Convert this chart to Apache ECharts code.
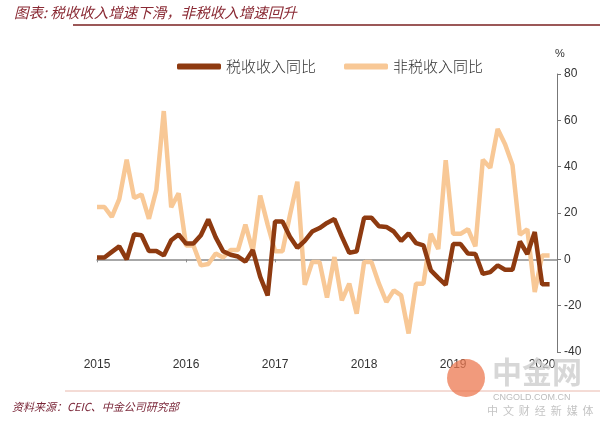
<!DOCTYPE html>
<html>
<head>
<meta charset="utf-8">
<script src="https://cdn.jsdelivr.net/npm/echarts@6/dist/echarts.min.js"></script>
<style>html,body{margin:0;padding:0;background:#fff;}#c{width:600px;height:428px;}</style>
</head>
<body>
<div id="c"></div>
<script>
// Monthly categories 2015-01 .. 2020-03 (Jan & Feb reported together)
var startYear = 2015, endYear = 2020, endMonth = 3;
var months = [];
for (var y = startYear; y <= endYear; y++) {
  for (var m = 1; m <= 12; m++) {
    if (y === endYear && m > endMonth) break;
    months.push(y + '-' + (m < 10 ? '0' + m : m));
  }
}
var yearLabels = ['2015', '2016', '2017', '2018', '2019', '2020'];

var seriesNames = ['税收收入同比', '非税收入同比'];

// 税收收入同比 (%)
var taxYoY = [
  0.8, 0.8, 3.2, 5.6, 0.0, 10.8, 10.4, 3.6, 3.6, 1.7, 8.2, 10.7,
  6.8, 6.8, 10.4, 17.2, 9.5, 3.5, 2.0, 1.2, -1.0, 4.0, -7.6, -15.6,
  16.3, 16.3, 9.8, 5.0, 8.0, 12.0, 13.5, 15.7, 17.4, 9.8, 2.8, 3.5,
  17.9, 17.9, 14.3, 14.0, 12.0, 8.0, 11.2, 7.0, 6.0, -4.8, -8.0, -11.0,
  6.6, 6.6, 2.5, 2.3, -6.3, -5.5, -2.6, -4.5, -4.5, 7.7, 2.3, 11.8,
  -10.8, -10.8
];
// 非税收入同比 (%)
var nonTaxYoY = [
  22.6, 22.6, 18.3, 26.0, 43.0, 26.5, 28.0, 17.5, 30.0, 64.0, 22.5, 28.5,
  6.0, 6.0, -2.6, -2.0, 2.5, 0.8, 4.0, 4.0, 15.0, 3.5, 27.5, 15.0,
  3.5, 3.5, 19.0, 33.5, -11.0, -1.2, -1.2, -16.5, 1.0, -17.7, -10.5, -23.5,
  -1.2, -1.2, -10.5, -18.4, -13.4, -15.6, -32.0, -10.5, -10.5, 11.0, 4.4, 42.8,
  11.0, 11.0, 13.0, 5.6, 43.0, 39.5, 56.3, 49.7, 40.7, 10.6, 13.0, -14.1,
  1.7, 1.7
];

var taxColor = '#8E3A10';
var nonTaxColor = '#F8C896';
var isYearStart = function (i) { return i % 12 === 0; };

var chart = echarts.init(document.getElementById('c'), null, {renderer: 'canvas'});
chart.setOption({
  animation: false,
  backgroundColor: '#fff',
  textStyle: {fontFamily: 'Liberation Sans, Arial, sans-serif'},
  grid: {left: 97, right: 43, top: 74, bottom: 76},
  legend: {
    data: seriesNames,
    left: 172, top: 54,
    icon: 'roundRect',
    itemWidth: 44, itemHeight: 6,
    itemGap: 28,
    textStyle: {fontFamily: 'Noto Sans CJK SC', fontSize: 15, color: '#333', fontWeight: 300}
  },
  xAxis: [{
    type: 'category',
    data: months,
    boundaryGap: false,
    axisLine: {onZero: true, lineStyle: {color: '#8a8a8a', width: 1.5}},
    axisTick: {show: true, interval: function (i) { return isYearStart(i); }, length: 3, lineStyle: {color: '#8a8a8a'}},
    axisLabel: {show: false},
    splitLine: {show: false}
  }, {
    type: 'category',
    data: months,
    boundaryGap: false,
    position: 'bottom',
    axisLine: {show: false, onZero: false},
    axisTick: {show: false},
    axisLabel: {
      interval: function (i) { return isYearStart(i); },
      formatter: function (v, i) { return yearLabels[Math.floor(i / 12)]; },
      color: '#333', fontSize: 12, margin: 7
    }
  }],
  yAxis: {
    type: 'value',
    position: 'right',
    min: -40, max: 80, interval: 20,
    name: '%',
    nameLocation: 'end',
    nameGap: 15,
    nameTextStyle: {color: '#333', fontSize: 11, align: 'left', padding: [0, 0, 0, -2]},
    axisLine: {show: true, lineStyle: {color: '#777', width: 1}},
    axisTick: {show: true, length: 4, lineStyle: {color: '#777'}},
    axisLabel: {color: '#333', fontSize: 12, margin: 7},
    splitLine: {show: false}
  },
  series: [{
    name: seriesNames[1],
    type: 'line',
    data: nonTaxYoY,
    symbol: 'none',
    lineStyle: {color: nonTaxColor, width: 4.5},
    itemStyle: {color: nonTaxColor},
    z: 2
  }, {
    name: seriesNames[0],
    type: 'line',
    data: taxYoY,
    symbol: 'none',
    lineStyle: {color: taxColor, width: 4.5},
    itemStyle: {color: taxColor},
    z: 3
  }],
  graphic: [
    {type: 'text', left: 14, top: 5, style: {text: '图表: 税收收入增速下滑，非税收入增速回升', fill: '#8A2A34', font: 'italic 14.5px "Noto Sans CJK SC"'}},
    {type: 'line', shape: {x1: 73, y1: 25, x2: 600, y2: 25}, style: {stroke: '#7A2020', lineWidth: 1.5}},
    {type: 'line', shape: {x1: 65, y1: 391, x2: 600, y2: 391}, style: {stroke: '#E9B8AC', lineWidth: 1}},
    {type: 'text', left: 12, top: 401, style: {text: '资料来源：CEIC、中金公司研究部', fill: '#7A2638', font: 'italic 11px "Noto Sans CJK SC"'}},
    {type: 'circle', shape: {cx: 466, cy: 378, r: 19}, style: {fill: 'rgba(236,120,80,0.75)'}, z: 10},
    {type: 'text', left: 492, top: 357, style: {text: '中金网', fill: 'rgba(205,205,205,0.8)', font: 'bold 30px "Noto Sans CJK SC"'}, z: 10},
    {type: 'text', left: 493, top: 393, style: {text: 'CNGOLD.COM.CN', fill: '#bdbdbd', font: '9px "Liberation Sans"'}, z: 10},
    {type: 'text', left: 487, top: 405, style: {text: '中  文  财  经  新  媒  体', fill: '#c4c4c4', font: '11px "Noto Sans CJK SC"'}, z: 10}
  ]
});
</script>
</body>
</html>
